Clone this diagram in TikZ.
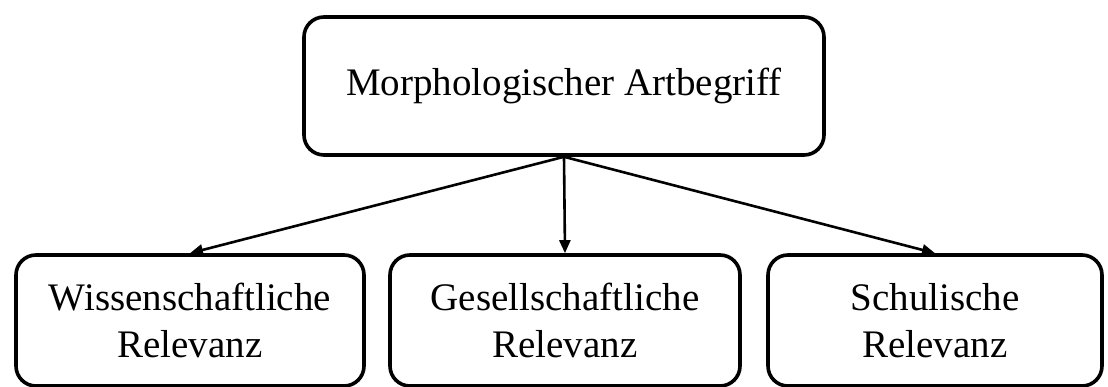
\documentclass[tikz,border=0pt]{standalone}
\usepackage{fontspec}
\setmainfont{Liberation Serif}
\usetikzlibrary{arrows.meta,positioning}
\tikzset{
  bx/.style={draw=black, line width=3.6pt, rounded corners=20pt, align=center, inner sep=0pt,
    font=\fontsize{39}{47}\selectfont},
  topbx/.style={bx, minimum width=520pt, minimum height=138pt},
  subbx/.style={bx, minimum height=131pt},
  arr/.style={-{Triangle[length=13pt, width=11pt]}, line width=2.6pt, color=black},
}
\begin{document}
\begin{tikzpicture}[x=1pt, y=1pt]
    \useasboundingbox (0,0) rectangle (1108,387);
    \node[topbx] (art) at (564,301) {Morphologischer Artbegriff};
    \node[subbx, minimum width=348pt] (wiss) at (190,66.5) {Wissenschaftliche\\Relevanz};
    \node[subbx, minimum width=350pt] (ges) at (565,66.5) {Gesellschaftliche\\Relevanz};
    \node[subbx, minimum width=334pt] (schul) at (935,66.5) {Schulische\\Relevanz};
    \foreach \dst in {wiss, ges, schul}
      { \draw[arr] (art.south) -- (\dst.north); }
\end{tikzpicture}
\end{document}
